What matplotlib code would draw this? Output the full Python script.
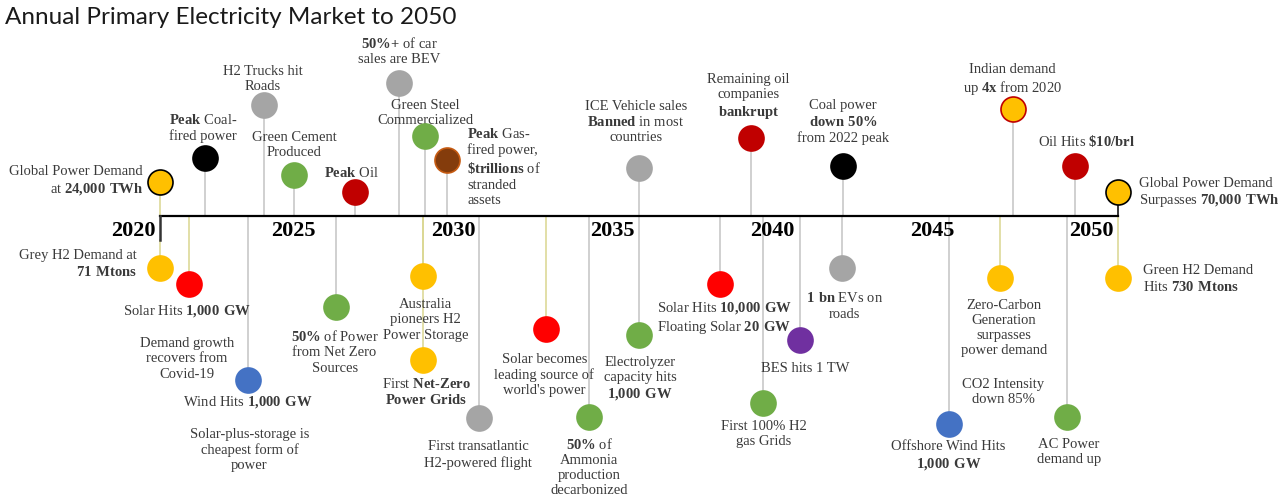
import matplotlib.pyplot as plt

plt.rcParams['font.family'] = 'Liberation Serif'
plt.rcParams['mathtext.fontset'] = 'custom'
plt.rcParams['mathtext.rm'] = 'Liberation Serif'
plt.rcParams['mathtext.bf'] = 'Liberation Serif:bold'

# ---- data: milestones on the 2020-2050 timeline ----
years = [2020.0, 2021.4, 2023.25, 2024.2, 2026.1, 2027.5, 2028.3, 2029.0,
         2035.0, 2038.5, 2041.4, 2046.7, 2048.65, 2050.0,
         2020.0, 2020.9, 2022.75, 2025.5, 2028.25, 2028.25, 2030.0, 2032.1,
         2033.45, 2035.0, 2037.55, 2038.9, 2040.05, 2041.35, 2044.7, 2046.3,
         2048.4, 2050.0]
labels = [
    "Global Power Demand\nat **24,000 TWh**",
    "**Peak** Coal-\nfired power",
    "H2 Trucks hit\nRoads",
    "Green Cement\nProduced",
    "**Peak** Oil",
    "**50%+** of car\nsales are BEV",
    "Green Steel\nCommercialized",
    "**Peak** Gas-\nfired power,\n**$trillions** of\nstranded\nassets",
    "ICE Vehicle sales\n**Banned** in most\ncountries",
    "Remaining oil\ncompanies\n**bankrupt**",
    "Coal power\n**down 50%**\nfrom 2022 peak",
    "Indian demand\nup **4x** from 2020",
    "Oil Hits **$10/brl**",
    "Global Power Demand\nSurpasses **70,000 TWh**",
    "Grey H2 Demand at\n**71 Mtons**",
    "Solar Hits **1,000 GW**",
    "Wind Hits **1,000 GW**",
    "**50%** of Power\nfrom Net Zero\nSources",
    "Australia\npioneers H2\nPower Storage",
    "First **Net**-**Zero**\n**Power Grids**",
    "First transatlantic\nH2-powered flight",
    "Solar becomes\nleading source of\nworld's power",
    "**50%** of\nAmmonia\nproduction\ndecarbonized",
    "Electrolyzer\ncapacity hits\n**1,000 GW**",
    "Solar Hits **10,000 GW**\nFloating Solar **20 GW**",
    "First 100% H2\ngas Grids",
    "BES hits 1 TW",
    "**1 bn** EVs on\nroads",
    "Offshore Wind Hits\n**1,000 GW**",
    "Zero-Carbon\nGeneration\nsurpasses\npower demand",
    "AC Power\ndemand up",
    "Green H2 Demand\nHits **730 Mtons**",
]
note_years = [2020.85, 2022.8, 2046.4]
notes = ["Demand growth\nrecovers from\nCovid-19",
         "Solar-plus-storage is\ncheapest form of\npower",
         "CO2 Intensity\ndown 85%"]
tick_years = [2020, 2025, 2030, 2035, 2040, 2045, 2050]

# ---- layout (pixel units, y down) ----
YELLOW, BLACK, GRAY, GREEN = '#FFC000', '#000000', '#A5A5A5', '#70AD47'
DRED, RED, BROWN, BLUE, PURPLE = '#C00000', '#FF0000', '#843C0C', '#4472C4', '#7030A0'
colors = [YELLOW, BLACK, GRAY, GREEN, DRED, GRAY, GREEN, BROWN,
          GRAY, DRED, BLACK, YELLOW, DRED, YELLOW,
          YELLOW, RED, BLUE, GREEN, YELLOW, YELLOW, GRAY, RED,
          GREEN, GREEN, RED, GREEN, PURPLE, GRAY, BLUE, YELLOW,
          GREEN, YELLOW]
edges = list(colors)
edges[0] = BLACK
edges[7] = '#C55A11'
edges[11] = DRED
edges[13] = BLACK
mark_y = [182, 158, 105, 175, 192, 83, 136, 160,
          168, 138, 166, 109, 166, 192,
          268, 284, 380, 307, 276, 360, 418, 329,
          417, 335, 284, 403, 340, 268, 424, 278,
          417, 278]
lab_dx = [-17, -2, -1, 0, -3, 0, 0, 20,
          -3, -2, 0, 0, 12, 21,
          -23, -2, 0, -1, 2, 3, -1, -2,
          0, 1, 4, 0, 5, 3, 0, 4,
          2, 25]
lab_y = [181, 128, 79, 145, 173, 51, 113, 167,
         122, 97, 122, 80, 141, 193,
         264, 311, 402, 352, 320, 392, 455, 375,
         467, 379, 318, 434, 368, 306, 456, 328,
         452, 279]
lab_ha = ['right'] + ['center'] * 6 + ['left'] + ['center'] * 5 + ['left'] + \
         ['right'] + ['center'] * 16 + ['left']
PALE = '#DAD690'
LGRAY = '#C4C4C4'
stem = [PALE, LGRAY, LGRAY, LGRAY, LGRAY, LGRAY, LGRAY, LGRAY,
        LGRAY, LGRAY, LGRAY, LGRAY, LGRAY, BLACK,
        PALE, PALE, LGRAY, LGRAY, PALE, PALE, LGRAY, PALE,
        LGRAY, LGRAY, LGRAY, LGRAY, LGRAY, LGRAY, LGRAY, PALE,
        LGRAY, PALE]
note_y = [359, 450, 392]

AXIS_Y = 216
X0 = 160          # pixel of 2020
PX = 31.93        # pixels per year
TXT = '#3A3A3A'
FS = 10.5


def fmt(s):
    # '**bold**' markup -> mathtext bold pieces
    parts = s.split('**')
    out = ''
    for i, p in enumerate(parts):
        if i % 2:
            p = (p.replace('%', r'\%').replace('$', r'\$').replace('+', '{+}')
                  .replace(',', '{,}').replace(' ', r'\ '))
            out += r'$\mathbf{' + p + '}$'
        else:
            out += p.replace('$', r'\$')
    return out


fig = plt.figure(figsize=(12.8, 5), dpi=100)
ax = fig.add_axes([0, 0, 1, 1])
ax.set_xlim(2020 - X0 / PX, 2020 + (1280 - X0) / PX)
ax.set_ylim(500, 0)
ax.axis('off')

# timeline
ax.plot([2020, 2050], [AXIS_Y, AXIS_Y], color='black', lw=1.6, zorder=3)
ax.plot([2020, 2020], [AXIS_Y, 240], color='#333333', lw=1.8, zorder=3)
for ty in tick_years:
    ax.text(ty - 4 / PX, 231, str(ty), ha='right', va='center',
            fontsize=16, fontweight='bold', color='black')

for yr, lab, c, e, my, dx, ly, ha, sc in zip(years, labels, colors, edges, mark_y,
                                            lab_dx, lab_y, lab_ha, stem):
    y_from = 240 if (yr == 2020 and my > AXIS_Y) else AXIS_Y
    ax.plot([yr, yr], [y_from, my], color=sc, lw=1.1, zorder=1)
    ax.plot(yr, my, 'o', ms=18, mfc=c, mec=e, mew=1.2, zorder=4)
    ax.text(yr + dx / PX, ly, fmt(lab), ha=ha, va='center', multialignment=ha,
            fontsize=FS, color=TXT, linespacing=1.22)

for yr, lab, ny in zip(note_years, notes, note_y):
    ax.text(yr, ny, lab, ha='center', va='center', multialignment='center',
            fontsize=FS, color=TXT, linespacing=1.22)

fig.text(5 / 1280, 1 - 17 / 500, "Annual Primary Electricity Market to 2050",
         fontsize=17.5, family='Lato', fontweight='normal', color='#1a1a1a',
         va='center', ha='left')

fig.savefig('out.png', dpi=100, facecolor='white')
